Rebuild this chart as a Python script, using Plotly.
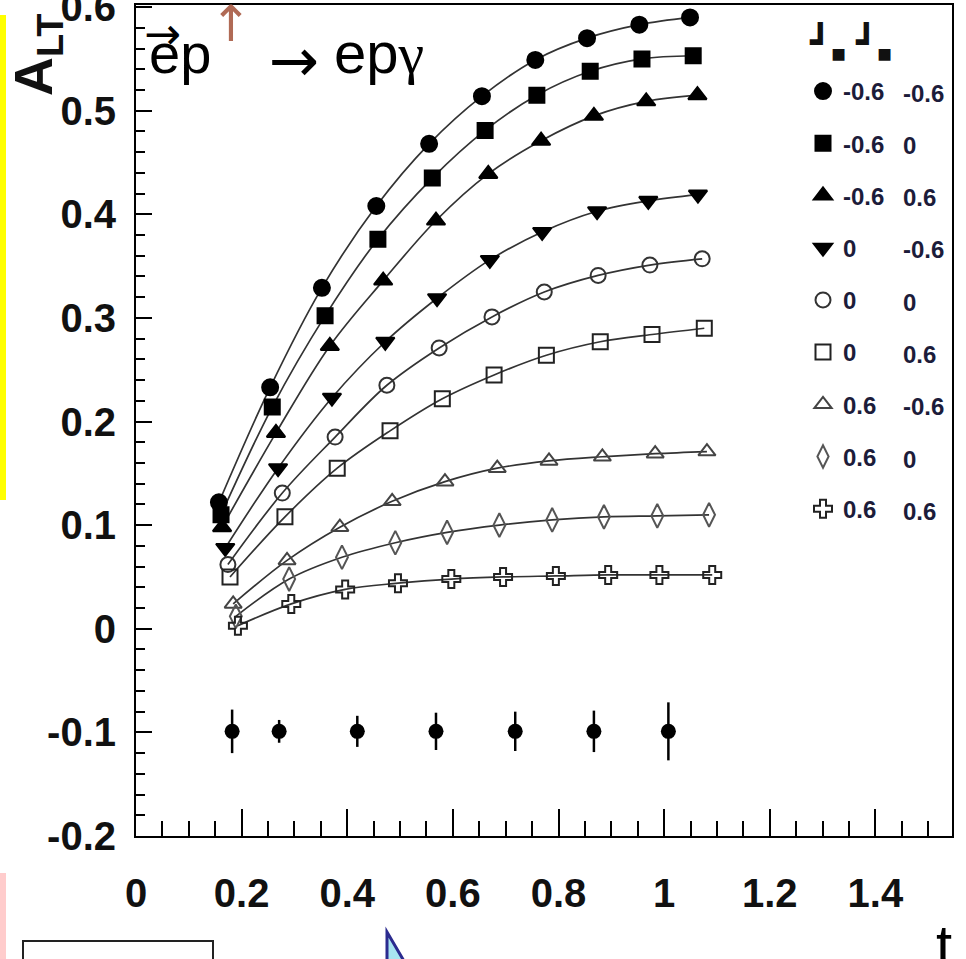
import plotly.graph_objects as go

# ---------------- data ----------------
col1_labels = ["-0.6", "-0.6", "-0.6", "0", "0", "0", "0.6", "0.6", "0.6"]
col2_labels = ["-0.6", "0", "0.6", "-0.6", "0", "0.6", "-0.6", "0", "0.6"]

t_s1 = [0.157, 0.254, 0.352, 0.455, 0.555, 0.655, 0.756, 0.854, 0.953, 1.049]
t_s2 = [0.161, 0.258, 0.358, 0.458, 0.561, 0.661, 0.759, 0.860, 0.958, 1.055]
t_s3 = [0.163, 0.265, 0.367, 0.468, 0.568, 0.667, 0.767, 0.867, 0.966, 1.063]
t_s4 = [0.169, 0.269, 0.371, 0.472, 0.570, 0.670, 0.769, 0.873, 0.970, 1.064]
t_s5 = [0.174, 0.277, 0.377, 0.475, 0.574, 0.674, 0.773, 0.875, 0.973, 1.072]
t_s6 = [0.178, 0.282, 0.381, 0.481, 0.580, 0.678, 0.777, 0.879, 0.977, 1.076]
t_s7 = [0.184, 0.286, 0.386, 0.485, 0.585, 0.684, 0.782, 0.883, 0.983, 1.081]
t_s8 = [0.189, 0.290, 0.390, 0.491, 0.589, 0.688, 0.788, 0.886, 0.987, 1.085]
t_s9 = [0.193, 0.294, 0.396, 0.496, 0.597, 0.695, 0.795, 0.894, 0.991, 1.091]

a_s1 = [0.122, 0.233, 0.329, 0.408, 0.468, 0.514, 0.549, 0.570, 0.583, 0.590]
a_s2 = [0.110, 0.214, 0.302, 0.376, 0.435, 0.481, 0.515, 0.538, 0.550, 0.553]
a_s3 = [0.098, 0.189, 0.273, 0.336, 0.394, 0.439, 0.471, 0.495, 0.509, 0.515]
a_s4 = [0.078, 0.155, 0.223, 0.277, 0.319, 0.356, 0.383, 0.403, 0.413, 0.419]
a_s5 = [0.062, 0.131, 0.185, 0.235, 0.271, 0.301, 0.325, 0.341, 0.351, 0.357]
a_s6 = [0.050, 0.108, 0.155, 0.191, 0.222, 0.245, 0.264, 0.277, 0.284, 0.290]
a_s7 = [0.024, 0.066, 0.098, 0.123, 0.142, 0.155, 0.162, 0.166, 0.169, 0.171]
a_s8 = [0.012, 0.048, 0.069, 0.083, 0.093, 0.100, 0.105, 0.108, 0.109, 0.110]
a_s9 = [0.003, 0.024, 0.038, 0.044, 0.048, 0.050, 0.051, 0.052, 0.052, 0.052]

t_err = [0.182, 0.271, 0.419, 0.568, 0.718, 0.867, 1.008]
a_err = [-0.099, -0.099, -0.099, -0.099, -0.099, -0.099, -0.099]
e_err = [0.021, 0.011, 0.015, 0.018, 0.019, 0.020, 0.028]

x_ticks = [0, 0.2, 0.4, 0.6, 0.8, 1, 1.2, 1.4]
x_ticktext = ["0", "0.2", "0.4", "0.6", "0.8", "1", "1.2", "1.4"]
y_ticks = [-0.2, -0.1, 0, 0.1, 0.2, 0.3, 0.4, 0.5, 0.6]
y_ticktext = ["-0.2", "-0.1", "0", "0.1", "0.2", "0.3", "0.4", "0.5", "0.6"]

series_t = [t_s1, t_s2, t_s3, t_s4, t_s5, t_s6, t_s7, t_s8, t_s9]
series_a = [a_s1, a_s2, a_s3, a_s4, a_s5, a_s6, a_s7, a_s8, a_s9]

# ---------------- styles ----------------
symbols = ["circle", "square", "triangle-up", "triangle-down", "circle-open",
           "square-open", "triangle-up-open", "diamond-tall-open", "cross-open"]
msizes = [16, 15, 16, 16, 15, 15, 15, 17, 15]
mcolors = ["black", "black", "black", "black", "#333", "#222", "#444", "#555", "#222"]

BOLD = "Liberation Sans, Arial, sans-serif"
SANS = "Liberation Sans, Arial, DejaVu Sans, sans-serif"

L, R, T, B = 136, 14, 5, 123
W, H = 966, 959
PW, PH = W - L - R, H - T - B


def px(x):
    return (x - L) / PW


def py(y):
    return (H - B - y) / PH


fig = go.Figure()

for i in range(9):
    fig.add_trace(go.Scatter(
        x=series_t[i], y=series_a[i], mode="lines", line_shape="spline",
        line=dict(color="#333333", width=1.7), showlegend=False, hoverinfo="skip"))

for i in range(9):
    fig.add_trace(go.Scatter(
        x=series_t[i], y=series_a[i], mode="markers", name=col1_labels[i],
        legendgroup="g%d" % i,
        marker=dict(symbol=symbols[i], size=msizes[i], color=mcolors[i],
                    line=dict(width=2, color=mcolors[i]))))

fig.add_trace(go.Scatter(
    x=t_err, y=a_err, mode="markers", showlegend=False,
    marker=dict(symbol="circle", size=15, color="black"),
    error_y=dict(type="data", array=e_err, visible=True, color="black",
                 thickness=2.5, width=0)))

LEG_FONT = dict(family=BOLD, size=24, color="#1c1c3a", weight="bold")
annotations = []
# second legend column
for i in range(9):
    annotations.append(dict(
        text=col2_labels[i], x=px(901), y=py(93 + 52.3 * i), xref="paper", yref="paper",
        xanchor="left", yanchor="middle", showarrow=False, font=LEG_FONT))
# header glyphs
for gx in (828, 874):
    annotations.append(dict(
        text="┛<sub>▪</sub>", x=px(gx), y=py(44), xref="paper", yref="paper",
        xanchor="center", yanchor="middle", showarrow=False,
        font=dict(family="DejaVu Sans", size=34, color="#111", weight="bold")))
# y-axis title
annotations.append(dict(
    text="A<sub>LT</sub>", x=px(37), y=py(55), xref="paper", yref="paper",
    textangle=-90, xanchor="center", yanchor="middle", showarrow=False,
    font=dict(family=SANS, size=54, color="#111", weight="bold")))
# reaction label
annotations.append(dict(
    text="→", x=px(162), y=py(33), xref="paper", yref="paper",
    xanchor="center", yanchor="middle", showarrow=False,
    font=dict(family="DejaVu Sans", size=44, color="black")))
annotations.append(dict(
    text="ep", x=px(147), y=py(53), xref="paper", yref="paper",
    xanchor="left", yanchor="middle", showarrow=False,
    font=dict(family=SANS, size=56, color="black")))
annotations.append(dict(
    text="↑", x=px(231), y=py(24), xref="paper", yref="paper",
    xanchor="center", yanchor="middle", showarrow=False,
    font=dict(family="DejaVu Sans", size=50, color="#b06a55")))
annotations.append(dict(
    text="→", x=px(294), y=py(60), xref="paper", yref="paper",
    xanchor="center", yanchor="middle", showarrow=False,
    font=dict(family="DejaVu Sans", size=60, color="black")))
annotations.append(dict(
    text="ep<span style=\"font-family:Liberation Serif\">γ</span>", x=px(332), y=py(53),
    xref="paper", yref="paper",
    xanchor="left", yanchor="middle", showarrow=False,
    font=dict(family=SANS, size=58, color="black")))
# x-axis title
annotations.append(dict(
    text="t", x=px(944), y=py(944), xref="paper", yref="paper",
    xanchor="center", yanchor="middle", showarrow=False,
    font=dict(family=SANS, size=58, color="black")))

shapes = [
    dict(type="rect", xref="paper", yref="paper", x0=px(0), x1=px(6), y0=py(500), y1=py(15),
         fillcolor="#ffff00", line=dict(width=0)),
    dict(type="rect", xref="paper", yref="paper", x0=px(0), x1=px(6), y0=py(980), y1=py(873),
         fillcolor="#ffcccc", line=dict(width=0)),
    dict(type="rect", xref="paper", yref="paper", x0=px(23), x1=px(213), y0=py(985), y1=py(941),
         fillcolor="white", line=dict(width=2, color="#222")),
    dict(type="path", xref="paper", yref="paper",
         path="M %f %f L %f %f L %f %f Z" % (px(387), py(932), px(387), py(985), px(418), py(985)),
         fillcolor="#a8e4f0", line=dict(width=3, color="#2b2b8f")),
]

tickfont = dict(family=BOLD, size=40, color="#111", weight="bold")

fig.update_layout(
    width=W, height=H, margin=dict(l=L, r=R, t=T, b=B, autoexpand=False),
    paper_bgcolor="white", plot_bgcolor="white",
    showlegend=True,
    legend=dict(x=px(803), y=py(69), xanchor="left", yanchor="top",
                font=LEG_FONT, bgcolor="rgba(0,0,0,0)", tracegroupgap=18, itemwidth=30),
    annotations=annotations, shapes=shapes,
    xaxis=dict(range=[0, 1.545], tickvals=x_ticks, ticktext=x_ticktext,
               ticks="inside", ticklen=27, tickwidth=2, tickcolor="black",
               minor=dict(dtick=0.05, ticks="inside", ticklen=15, tickwidth=2, tickcolor="black"),
               showline=True, linecolor="black", linewidth=2, mirror=True,
               showgrid=False, zeroline=False, tickfont=tickfont, ticklabelstandoff=21,
               ticklabeloverflow="allow"),
    yaxis=dict(range=[-0.2, 0.602], tickvals=y_ticks, ticktext=y_ticktext,
               ticks="inside", ticklen=16, tickwidth=2, tickcolor="black",
               minor=dict(dtick=0.02, ticks="inside", ticklen=9, tickwidth=2, tickcolor="black"),
               showline=True, linecolor="black", linewidth=2, mirror=True,
               showgrid=False, zeroline=False, tickfont=tickfont, ticklabelstandoff=10,
               ticklabeloverflow="allow"),
)

fig.write_html("out.html", config={"displayModeBar": False},
               post_script="document.body.style.margin='0';document.body.style.overflow='hidden';")
